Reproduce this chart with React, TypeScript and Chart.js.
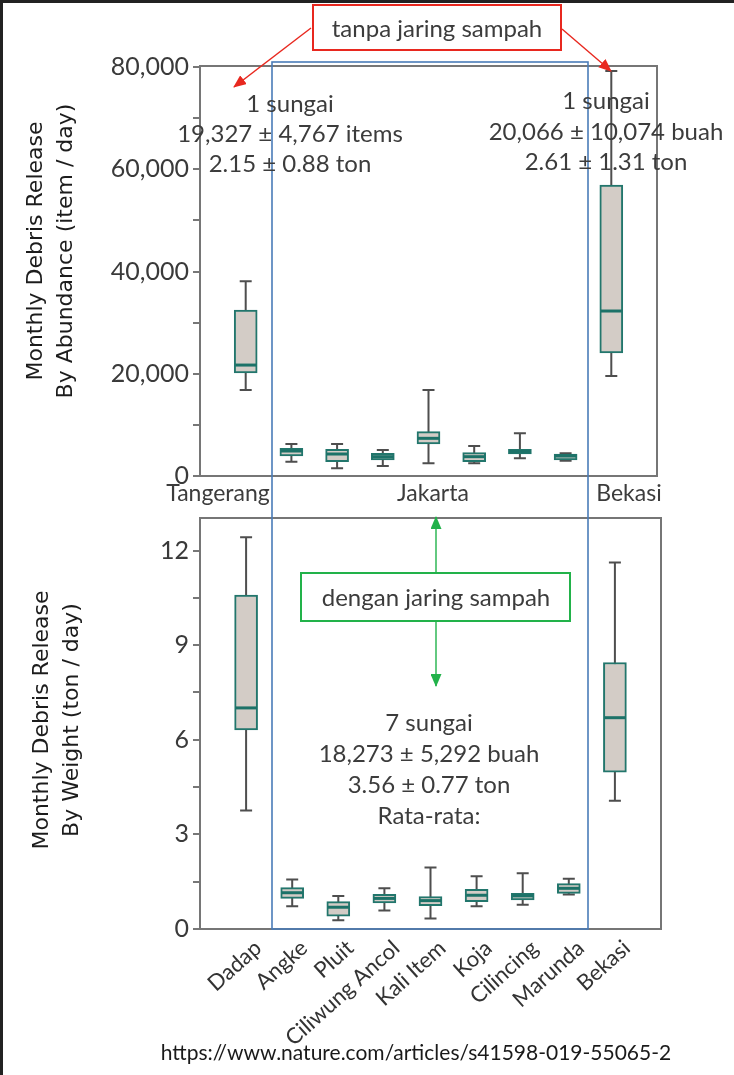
import React, { useEffect, useRef } from 'react';
import { Chart, registerables } from 'chart.js';

Chart.register(...registerables);

// ---------- data ----------
const categories = ['Dadap', 'Angke', 'Pluit', 'Ciliwung Ancol', 'Kali Item', 'Koja', 'Cilincing', 'Marunda', 'Bekasi'];

// Monthly debris release by abundance (item / day)
const abundMin = [16800, 2800, 1500, 1960, 2480, 2480, 3460, 2990, 19560];
const abundQ1 = [20150, 3910, 2800, 3130, 6260, 2800, 4300, 3130, 24060];
const abundMedian = [21700, 4890, 4300, 3780, 7370, 3780, 4760, 3910, 32270];
const abundQ3 = [32470, 5420, 5220, 4430, 8670, 4560, 5220, 4300, 56900];
const abundMax = [38100, 6260, 6260, 5090, 16800, 5870, 8350, 4430, 79200];

// Monthly debris release by weight (ton / day)
const weightMin = [3.76, 0.72, 0.28, 0.59, 0.33, 0.72, 0.77, 1.09, 4.07];
const weightQ1 = [6.31, 0.97, 0.41, 0.83, 0.74, 0.87, 0.92, 1.13, 4.97];
const weightMedian = [7.01, 1.15, 0.69, 0.97, 0.9, 1.07, 1.05, 1.29, 6.7];
const weightQ3 = [10.59, 1.31, 0.87, 1.1, 1.03, 1.26, 1.13, 1.44, 8.45];
const weightMax = [12.42, 1.57, 1.05, 1.29, 1.95, 1.67, 1.77, 1.59, 11.62];

// ticks
const abundMajorTicks = [0, 20000, 40000, 60000, 80000];
const abundMinorTicks = [10000, 30000, 50000, 70000];
const weightMajorTicks = [0, 3, 6, 9, 12];
const weightMinorTicks = [1.5, 4.5, 7.5, 10.5];

const regionLabels = ['Tangerang', 'Jakarta', 'Bekasi'];
const leftNote = ['1 sungai', '19,327 ± 4,767 items', '2.15 ± 0.88 ton'];
const rightNote = ['1 sungai', '20,066 ± 10,074 buah', '2.61 ± 1.31 ton'];
const middleNote = ['7 sungai', '18,273 ± 5,292 buah', '3.56 ± 0.77 ton', 'Rata-rata:'];

// ---------- chart helpers ----------
const axisLabels = ['', ...categories, ''];
const SANS = 'Lato, "Open Sans", sans-serif';

type Stats = { min: number[]; q1: number[]; med: number[]; q3: number[]; max: number[] };

function makeBoxPlugin(st: Stats) {
  return {
    id: 'boxWhisker',
    beforeDatasetsDraw(chart: any) {
      const { ctx } = chart;
      const x = chart.scales.x;
      const y = chart.scales.y;
      ctx.save();
      ctx.strokeStyle = '#4e4e4e';
      ctx.lineWidth = 2;
      st.min.forEach((_v, i) => {
        const px = x.getPixelForValue(i + 1);
        const yLo = y.getPixelForValue(st.min[i]);
        const yHi = y.getPixelForValue(st.max[i]);
        ctx.beginPath();
        ctx.moveTo(px, yLo);
        ctx.lineTo(px, yHi);
        ctx.moveTo(px - 6, yLo);
        ctx.lineTo(px + 6, yLo);
        ctx.moveTo(px - 6, yHi);
        ctx.lineTo(px + 6, yHi);
        ctx.stroke();
      });
      ctx.restore();
    },
    afterDatasetsDraw(chart: any) {
      const { ctx } = chart;
      const x = chart.scales.x;
      const y = chart.scales.y;
      const meta = chart.getDatasetMeta(0);
      ctx.save();
      ctx.strokeStyle = '#1c7268';
      ctx.lineWidth = 3;
      st.med.forEach((m, i) => {
        const bar = meta.data[i + 1];
        const w = bar ? bar.width : 23;
        const px = x.getPixelForValue(i + 1);
        const py = y.getPixelForValue(m);
        ctx.beginPath();
        ctx.moveTo(px - w / 2 + 1, py);
        ctx.lineTo(px + w / 2 - 1, py);
        ctx.stroke();
      });
      ctx.restore();
    },
    afterDraw(chart: any) {
      const { ctx, chartArea: a } = chart;
      ctx.save();
      ctx.strokeStyle = '#767676';
      ctx.lineWidth = 2;
      ctx.strokeRect(a.left, a.top - 1, a.right - a.left, a.bottom - a.top + 1);
      ctx.restore();
    },
  };
}

function makeConfig(
  st: Stats,
  yMax: number,
  majors: number[],
  minors: number[],
  fmt: (v: number) => string,
  padding: any,
  showX: boolean
): any {
  const allTicks = [...majors, ...minors].sort((a, b) => a - b);
  const xScale: any = {
    type: 'category',
    offset: false,
    display: showX,
    grid: { display: false },
    border: { display: false },
    ticks: {
      autoSkip: false,
      minRotation: 42,
      maxRotation: 42,
      padding: -2,
      labelOffset: 12,
      color: '#333',
      font: { family: SANS, size: 22 },
    },
  };
  if (showX) {
    xScale.afterFit = (s: any) => {
      s.height = 140;
    };
  }
  return {
    type: 'bar',
    data: {
      labels: axisLabels,
      datasets: [
        {
          data: [null, ...categories.map((_c, i) => [st.q1[i], st.q3[i]]), null],
          backgroundColor: '#d3ccc6',
          borderColor: '#22766c',
          borderWidth: 2,
          borderSkipped: false,
          barThickness: 23,
        },
      ],
    },
    options: {
      responsive: false,
      maintainAspectRatio: false,
      animation: false,
      devicePixelRatio: 1,
      layout: { padding },
      plugins: { legend: { display: false }, tooltip: { enabled: false } },
      scales: {
        x: xScale,
        y: {
          min: 0,
          max: yMax,
          grid: { drawOnChartArea: false, drawTicks: true, tickLength: 7, color: '#777', lineWidth: 2 },
          border: { display: false },
          afterBuildTicks: (s: any) => {
            s.ticks = allTicks.map((v) => ({ value: v }));
          },
          afterFit: (s: any) => {
            s.width = 200;
          },
          ticks: {
            autoSkip: false,
            padding: 4,
            color: '#3a3a3a',
            font: { family: SANS, size: 25 },
            callback: (v: number) => (majors.includes(v) ? fmt(v) : ''),
          },
        },
      },
    },
    plugins: [makeBoxPlugin(st)],
  };
}

// ---------- component ----------
const Txt = ({ x, y, size, children, color, family, bold }: any) => (
  <div
    style={{
      position: 'absolute',
      left: x,
      top: y,
      transform: 'translate(-50%, -50%)',
      whiteSpace: 'nowrap',
      fontSize: size,
      lineHeight: 1.1,
      color: color || '#3c3c3c',
      fontFamily: family || SANS,
      fontWeight: bold ? 700 : 400,
    }}
  >
    {children}
  </div>
);

const AxisTitle = ({ x, y, lines }: any) => (
  <div
    style={{
      position: 'absolute',
      left: x,
      top: y,
      transform: 'translate(-50%, -50%) rotate(-90deg)',
      whiteSpace: 'nowrap',
      textAlign: 'center',
      fontFamily: '"DejaVu Sans", Verdana, sans-serif',
      fontSize: 22,
      lineHeight: '30px',
      color: '#1c1c1c',
    }}
  >
    {lines.map((l: string, i: number) => (
      <div key={i}>{l}</div>
    ))}
  </div>
);

export default function App() {
  const topRef = useRef<HTMLCanvasElement>(null);
  const botRef = useRef<HTMLCanvasElement>(null);

  useEffect(() => {
    const top = new Chart(
      topRef.current as HTMLCanvasElement,
      makeConfig(
        { min: abundMin, q1: abundQ1, med: abundMedian, q3: abundQ3, max: abundMax },
        80000,
        abundMajorTicks,
        abundMinorTicks,
        (v) => v.toLocaleString('en-US'),
        { top: 67, right: 77, bottom: 24, left: 0 },
        false
      )
    );
    const bot = new Chart(
      botRef.current as HTMLCanvasElement,
      makeConfig(
        { min: weightMin, q1: weightQ1, med: weightMedian, q3: weightQ3, max: weightMax },
        13,
        weightMajorTicks,
        weightMinorTicks,
        (v) => String(v),
        { top: 10, right: 73, bottom: 6, left: 0 },
        true
      )
    );
    return () => {
      top.destroy();
      bot.destroy();
    };
  }, []);

  return (
    <div
      style={{
        position: 'absolute',
        left: 0,
        top: 0,
        width: 734,
        height: 1075,
        background: '#fff',
        overflow: 'hidden',
      }}
    >
      <canvas ref={topRef} width={734} height={500} style={{ position: 'absolute', left: 0, top: 0 }} />
      <canvas ref={botRef} width={734} height={575} style={{ position: 'absolute', left: 0, top: 500 }} />

      <svg width={734} height={1075} style={{ position: 'absolute', left: 0, top: 0 }}>
        <defs>
          <marker id="ar" markerUnits="userSpaceOnUse" markerWidth="13" markerHeight="11" refX="12" refY="5.5" orient="auto">
            <path d="M0,0 L13,5.5 L0,11 z" fill="#e8281f" />
          </marker>
          <marker id="ag" markerUnits="userSpaceOnUse" markerWidth="13" markerHeight="11" refX="12" refY="5.5" orient="auto">
            <path d="M0,0 L13,5.5 L0,11 z" fill="#22b24a" />
          </marker>
        </defs>
        <rect x={0} y={0} width={734} height={3} fill="#222" />
        <rect x={0} y={0} width={3} height={1075} fill="#222" />
        <rect x={272} y={62} width={316} height={867} fill="none" stroke="#4a7cb8" strokeWidth={1.6} />
        <line x1={311} y1={28} x2={234} y2={87} stroke="#e8281f" strokeWidth={1.4} markerEnd="url(#ar)" />
        <line x1={562} y1={29} x2={611} y2={71} stroke="#e8281f" strokeWidth={1.4} markerEnd="url(#ar)" />
        <rect x={313} y={5} width={248} height={45} fill="#fff" stroke="#e8281f" strokeWidth={2} />
        <line x1={436} y1={573} x2={436} y2={517} stroke="#22b24a" strokeWidth={1.4} markerEnd="url(#ag)" />
        <line x1={436} y1={621} x2={436} y2={686} stroke="#22b24a" strokeWidth={1.4} markerEnd="url(#ag)" />
        <rect x={301} y={573} width={269} height={48} fill="#fff" stroke="#22b24a" strokeWidth={2} />
      </svg>

      <Txt x={437} y={28} size={24}>tanpa jaring sampah</Txt>
      <Txt x={436} y={597} size={24}>dengan jaring sampah</Txt>

      {leftNote.map((t, i) => (
        <Txt key={'l' + i} x={290} y={103 + i * 30} size={24}>{t}</Txt>
      ))}
      {rightNote.map((t, i) => (
        <Txt key={'r' + i} x={606} y={100 + i * 30.5} size={24}>{t}</Txt>
      ))}
      {middleNote.map((t, i) => (
        <Txt key={'m' + i} x={429} y={722 + i * 31} size={24}>{t}</Txt>
      ))}

      <Txt x={218} y={493} size={23}>{regionLabels[0]}</Txt>
      <Txt x={433} y={493} size={23}>{regionLabels[1]}</Txt>
      <Txt x={629} y={493} size={23}>{regionLabels[2]}</Txt>

      <AxisTitle x={50} y={251} lines={['Monthly Debris Release', 'By Abundance (item / day)']} />
      <AxisTitle x={56} y={720} lines={['Monthly Debris Release', 'By Weight (ton / day)']} />

      <Txt x={416} y={1052} size={21} color="#1a1a1a">https://www.nature.com/articles/s41598-019-55065-2</Txt>
    </div>
  );
}
